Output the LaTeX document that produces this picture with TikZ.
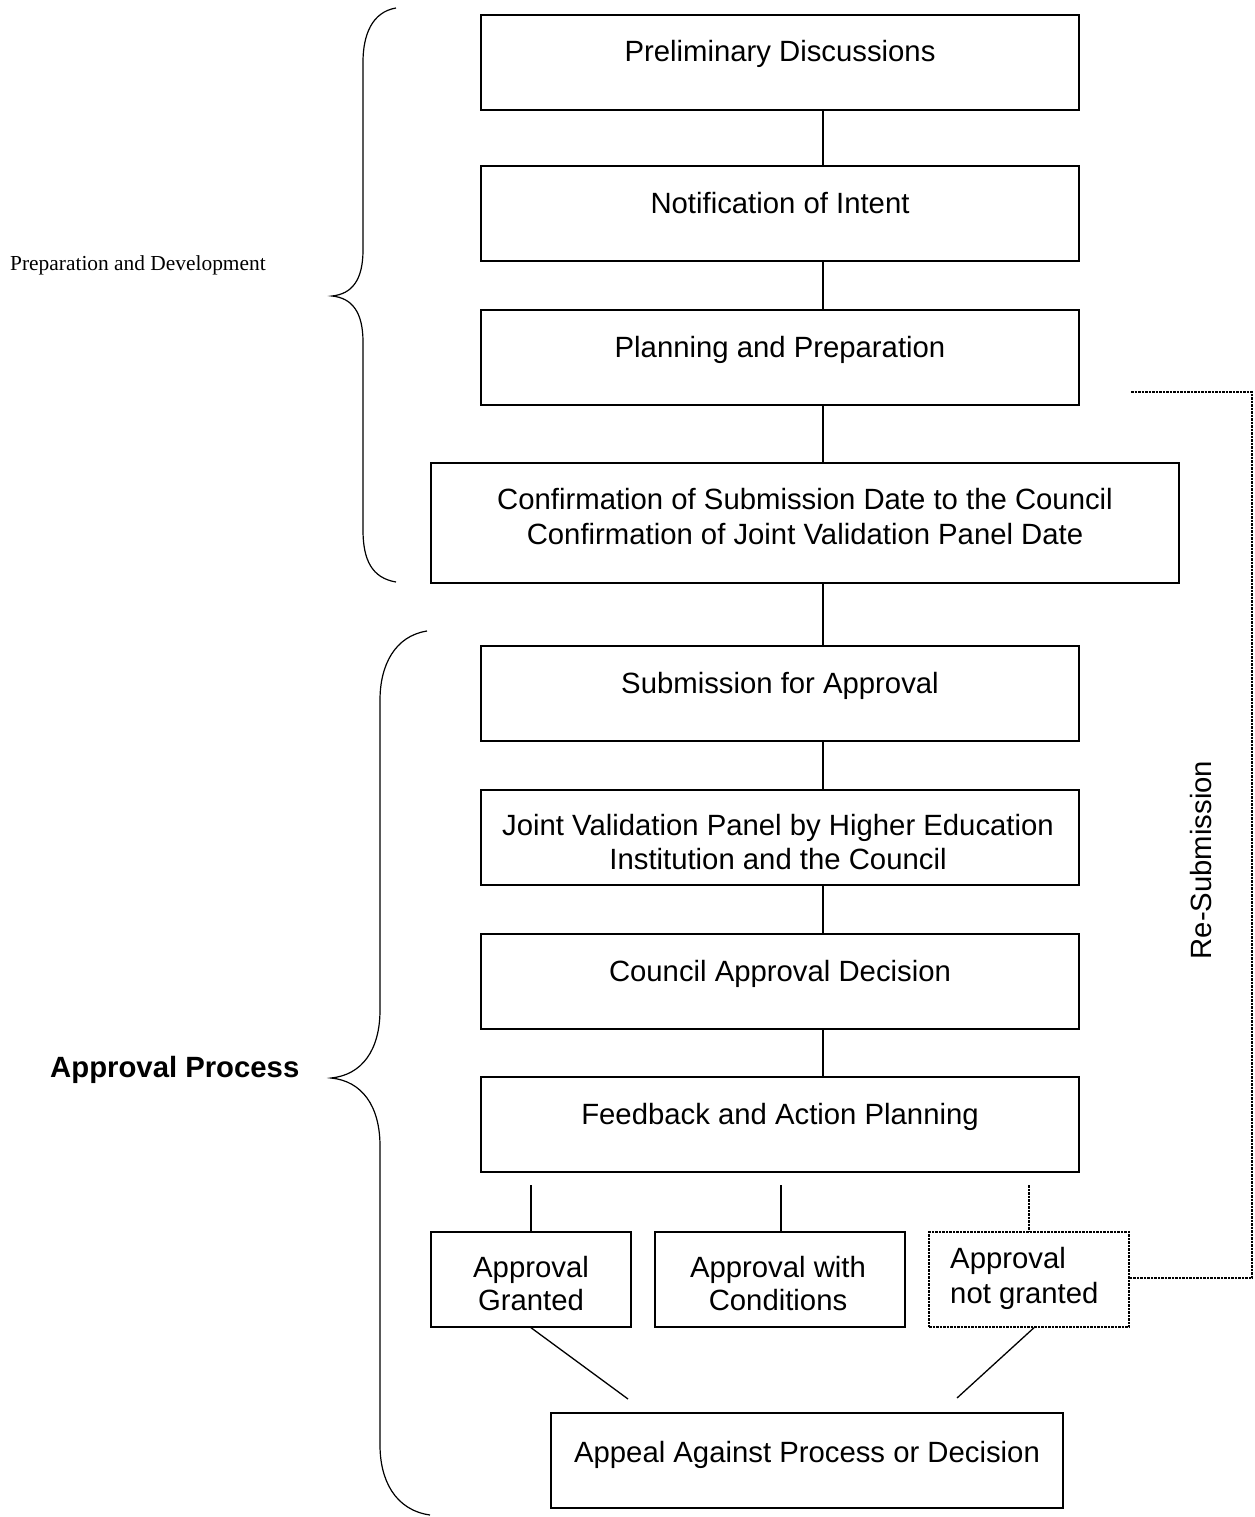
\documentclass[tikz,border=0pt]{standalone}
\usepackage{fontspec}
\setmainfont{Liberation Sans}
\newfontfamily\serifrm{Liberation Serif}
\begin{document}
\begin{tikzpicture}[x=1pt,y=-1pt,
  box/.style={draw,line width=1.4pt,inner sep=0pt},
  dbox/.style={box,dash pattern=on 2.5pt off 1pt},
  txt/.style={font=\fontsize{29.3}{34}\selectfont,inner sep=0pt,align=center,anchor=base},
  conn/.style={line width=1.3pt},
  dconn/.style={line width=1.3pt,dash pattern=on 2.5pt off 1pt},
  brace/.style={line width=1.2pt}]
\useasboundingbox (0,0) rectangle (1254,1517);
\fill[white] (0,0) rectangle (1254,1517);
% boxes
\node[box,minimum width=598pt,minimum height=95pt] (b1) at (780,62.5) {};
\node[box,minimum width=598pt,minimum height=95pt] (b2) at (780,213.5) {};
\node[box,minimum width=598pt,minimum height=95pt] (b3) at (780,357.5) {};
\node[box,minimum width=748pt,minimum height=120pt] (b4) at (805,523) {};
\node[box,minimum width=598pt,minimum height=95pt] (b5) at (780,693.5) {};
\node[box,minimum width=598pt,minimum height=95pt] (b6) at (780,837.5) {};
\node[box,minimum width=598pt,minimum height=95pt] (b7) at (780,981.5) {};
\node[box,minimum width=598pt,minimum height=95pt] (b8) at (780,1124.5) {};
\node[box,minimum width=200pt,minimum height=95pt] (g1) at (531,1279.5) {};
\node[box,minimum width=250pt,minimum height=95pt] (g2) at (780,1279.5) {};
\node[dbox,minimum width=200pt,minimum height=95pt] (g3) at (1029,1279.5) {};
\node[box,minimum width=512pt,minimum height=95pt] (ap) at (807,1460.5) {};
% texts (multi-line nodes are anchored at the baseline of their last line)
\node[txt] (t1) at (780,62) {Preliminary Discussions};
\node[txt] (t2) at (780,213) {Notification of Intent};
\node[txt] (t3) at (780,357) {Planning and Preparation};
\node[txt,font=\fontsize{29.3}{35}\selectfont] (t4) at (805,544) {Confirmation of Submission Date to the Council\\Confirmation of Joint Validation Panel Date};
\node[txt] (t5) at (780,693) {Submission for Approval};
\node[txt] (t6) at (778,869) {Joint Validation Panel by Higher Education\\Institution and the Council};
\node[txt] (t7) at (780,981) {Council Approval Decision};
\node[txt] (t8) at (780,1124) {Feedback and Action Planning};
\node[txt,font=\fontsize{29.3}{33}\selectfont] (t9) at (531,1310) {Approval\\Granted};
\node[txt,font=\fontsize{29.3}{33}\selectfont] (t10) at (778,1310) {Approval with\\Conditions};
\node[txt,align=left,anchor=base west,font=\fontsize{29.3}{35}\selectfont] (t11) at (950,1303) {Approval\\not granted};
\node[txt] (t12) at (807,1462) {Appeal Against Process or Decision};
% vertical connectors
\coordinate (cx) at (823,0);
\draw[conn] (b1.south -| cx) -- (b2.north -| cx);
\draw[conn] (b2.south -| cx) -- (b3.north -| cx);
\draw[conn] (b3.south -| cx) -- (b4.north -| cx);
\draw[conn] (b4.south -| cx) -- (b5.north -| cx);
\draw[conn] (b5.south -| cx) -- (b6.north -| cx);
\draw[conn] (b6.south -| cx) -- (b7.north -| cx);
\draw[conn] (b7.south -| cx) -- (b8.north -| cx);
% outcome connectors (free upper ends)
\coordinate (f1) at (531,1185);
\coordinate (f2) at (781,1185);
\coordinate (f3) at (1029,1185);
\draw[conn] (f1) -- (g1.north);
\draw[conn] (f2) -- (g2.north -| f2);
\draw[dconn] (f3) -- (g3.north);
% diagonals towards appeal (free lower ends)
\coordinate (d1) at (628,1399);
\coordinate (d2) at (957,1398);
\draw[conn] (g1.south) -- (d1);
\draw[conn] ([xshift=5pt]g3.south) -- (d2);
% re-submission
\coordinate (r1) at (1131,392);
\coordinate (r2) at (1252,392);
\coordinate (r3) at (1252,1278);
\draw[dconn] (r1) -- (r2) -- (r3) -- (g3.east |- r3);
\node[font=\fontsize{29.3}{34}\selectfont,rotate=90,inner sep=0pt,anchor=base] (rs) at (1211,860) {Re-Submission};
% braces
\draw[brace] (396,8) .. controls (372,12) and (363,35) .. (363,62) -- (363,250) .. controls (363,280) and (352,294) .. (332,296) .. controls (352,298) and (363,312) .. (363,342) -- (363,530) .. controls (363,560) and (372,578) .. (396,582);
\draw[brace] (427,631) .. controls (395,636) and (380,665) .. (380,700) -- (380,1010) .. controls (380,1050) and (362,1075) .. (331,1078) .. controls (362,1081) and (380,1106) .. (380,1146) -- (380,1445) .. controls (380,1480) and (395,1510) .. (430,1515);
% brace labels
\node[font=\serifrm\fontsize{21.4}{25}\selectfont,inner sep=0pt,anchor=base west] (l1) at (10,270) {Preparation and Development};
\node[font=\bfseries\fontsize{29.3}{34}\selectfont,inner sep=0pt,anchor=base west] (l2) at (50,1077) {Approval Process};
\end{tikzpicture}
\end{document}
